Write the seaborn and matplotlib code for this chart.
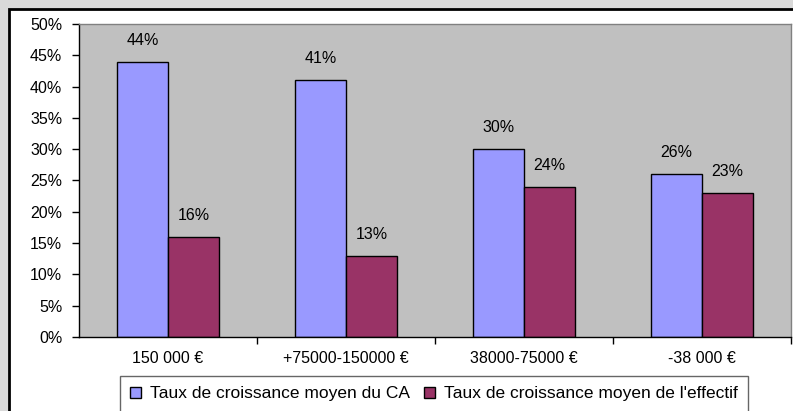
import pandas as pd
import matplotlib.pyplot as plt
import matplotlib.patches as mpatches
from matplotlib.ticker import PercentFormatter, FixedLocator
import seaborn as sns

# Données
categories = ['150 000 €', '+75000-150000 €', '38000-75000 €', '-38 000 €']
series = ['Taux de croissance moyen du CA', "Taux de croissance moyen de l'effectif"]
taux_ca = [44, 41, 30, 26]
taux_effectif = [16, 13, 24, 23]

df = pd.DataFrame({
    'categorie': categories * 2,
    'serie': [series[0]] * 4 + [series[1]] * 4,
    'valeur': [v / 100 for v in taux_ca + taux_effectif],
})

sns.set_theme(style='ticks')
plt.rcParams['font.family'] = ['Liberation Sans', 'DejaVu Sans']
plt.rcParams['text.color'] = 'black'
plt.rcParams['xtick.color'] = 'black'
plt.rcParams['ytick.color'] = 'black'
fs = 11.5

fig = plt.figure(figsize=(7.93, 4.11), dpi=100, facecolor='#d9d9d9')
# zone du graphique (blanche, bordure noire)
fig.patches.append(mpatches.Rectangle((9 / 793, -0.1), 1.0, 1 - 9 / 411 + 0.1,
                                      transform=fig.transFigure, facecolor='white',
                                      edgecolor='black', linewidth=2, zorder=-10))

ax = fig.add_axes([79 / 793, 1 - 337 / 411, (791 - 79) / 793, (337 - 24) / 411])
ax.set_facecolor('#c0c0c0')

sns.barplot(data=df, x='categorie', y='valeur', hue='serie', order=categories,
            hue_order=series, palette=['#9999ff', '#993366'], width=0.574,
            edgecolor='black', linewidth=1, saturation=1, ax=ax)

for cont, vals in zip(ax.containers, [taux_ca, taux_effectif]):
    ax.bar_label(cont, labels=[f'{v}%' for v in vals], padding=10, fontsize=fs, color='black')

ax.set_ylim(0, 0.5)
ax.set_xlim(-0.5, 3.5)
ax.set_yticks([i * 0.05 for i in range(11)])
ax.yaxis.set_major_formatter(PercentFormatter(1.0, decimals=0))
ax.tick_params(axis='y', length=5, width=1, color='black', pad=7, labelsize=fs, labelcolor='black')
ax.tick_params(axis='x', which='major', length=0, pad=10, labelsize=fs, labelcolor='black')
ax.xaxis.set_minor_locator(FixedLocator([0.5, 1.5, 2.5, 3.5]))
ax.tick_params(axis='x', which='minor', length=5, width=1, color='black', direction='out')
ax.set_xlabel('')
ax.set_ylabel('')

for side in ['left', 'bottom']:
    ax.spines[side].set_color('black')
    ax.spines[side].set_linewidth(1)
for side in ['top', 'right']:
    ax.spines[side].set_visible(True)
    ax.spines[side].set_color('#808080')
    ax.spines[side].set_linewidth(1)

ax.legend_.remove()
handles = [mpatches.Patch(facecolor=c, edgecolor='black', linewidth=1)
           for c in ['#9999ff', '#993366']]
leg = fig.legend(handles, series, loc='upper center', bbox_to_anchor=(434 / 793, 1 - 376 / 411),
                 ncol=2, fontsize=12.5, frameon=True, fancybox=False, handlelength=0.65,
                 handleheight=0.65, handletextpad=0.5, columnspacing=0.8, borderpad=0.6,
                 borderaxespad=0)
leg.get_frame().set_edgecolor('#404040')
leg.get_frame().set_linewidth(1)

plt.savefig('out.png', dpi=100, facecolor=fig.get_facecolor())
